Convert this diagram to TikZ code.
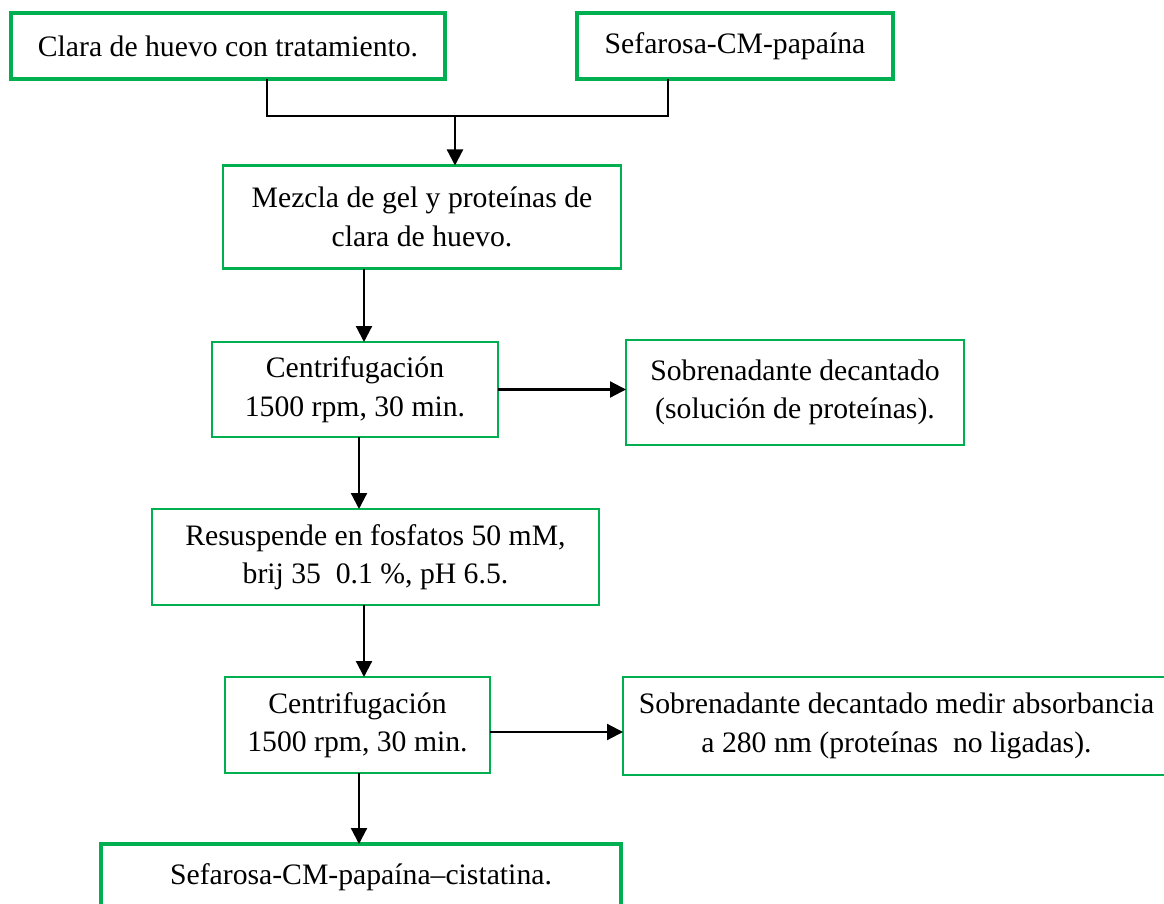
\documentclass[tikz,border=0pt]{standalone}
\usepackage{fontspec}
\setmainfont{Liberation Serif}
\usetikzlibrary{arrows.meta}
\definecolor{boxgreen}{RGB}{0,176,80}
\tikzset{
  stepbox/.style={draw=boxgreen, line width=2.2pt, fill=white, inner sep=0pt, outer sep=0pt,
    align=center, font=\fontsize{29.7}{38.5}\selectfont, text=black},
  thickbox/.style={stepbox, line width=4pt},
  link/.style={draw=black, line width=2.2pt},
  arr/.style={link, -{Triangle[length=16pt, width=16pt]}},
}
\begin{document}
\begin{tikzpicture}[x=1pt, y=-1pt]
\path[use as bounding box, clip] (0,0) rectangle (1164,904);
\fill[white] (0,0) rectangle (1164,904);

% process boxes
\node[thickbox, minimum width=434pt, minimum height=66pt] (b1) at (228,46) {Clara de huevo con tratamiento.};
\node[thickbox, minimum width=316pt, minimum height=66pt] (b2) at (735,46) {Sefarosa-CM-papaína};
\node[stepbox, minimum width=398pt, minimum height=103pt] (b3) at (422,217) {Mezcla de gel y proteínas de\\clara de huevo.};
\node[stepbox, minimum width=286pt, minimum height=95pt] (b4) at (355,389.5) {Centrifugación\\1500 rpm, 30 min.};
\node[stepbox, minimum width=338pt, minimum height=105pt] (b5) at (795,392.5) {Sobrenadante decantado\\(solución de proteínas).};
\node[stepbox, minimum width=447pt, minimum height=96pt] (b6) at (375.5,557) {Resuspende en fosfatos 50 mM,\\brij 35\ \ 0.1 \%, pH 6.5.};
\node[stepbox, minimum width=265pt, minimum height=96pt] (b7) at (357.5,725) {Centrifugación\\1500 rpm, 30 min.};
\node[stepbox, minimum width=547pt, minimum height=98pt] (b8) at (896.5,726) {Sobrenadante decantado medir absorbancia\\a 280 nm (proteínas\ \ no ligadas).};
\node[thickbox, minimum width=520pt, minimum height=66pt] (b9) at (361,877) {Sefarosa-CM-papaína–cistatina.};

% connector columns and rows
\coordinate (jl) at (267,116);
\coordinate (jr) at (668,116);
\coordinate (jm) at (455,116);
\coordinate (ca) at (364,0);
\coordinate (cb) at (359,0);
\coordinate (rb) at (0,732);

% joining the two starting materials
\draw[link] (b1.south -| jl) -- (jl) -- (jr) -- (b2.south -| jr);
\draw[arr] (jm) -- (b3.north -| jm);

% main sequence
\draw[arr] (b3.south -| ca) -- (b4.north -| ca);
\draw[arr] (b4.south -| cb) -- (b6.north -| cb);
\draw[arr] (b6.south -| ca) -- (b7.north -| ca);
\draw[arr] (b7.south -| cb) -- (b9.north -| cb);

% side products
\draw[arr] (b4.east) -- (b4.east -| b5.west);
\draw[arr] (b7.east |- rb) -- (b8.west |- rb);
\end{tikzpicture}
\end{document}
